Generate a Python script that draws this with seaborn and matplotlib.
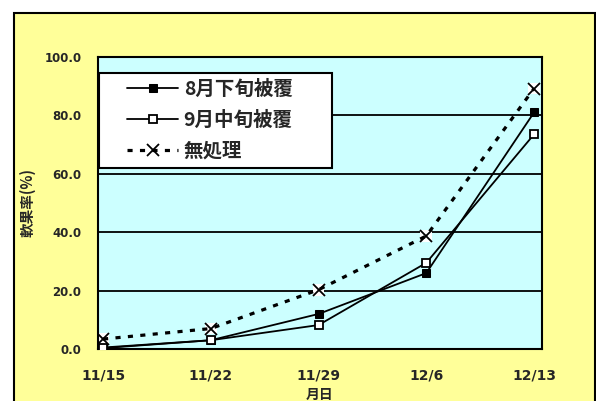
import numpy as np
import pandas as pd
import matplotlib
matplotlib.use("Agg")
import matplotlib.pyplot as plt
import matplotlib.patches as mpatches
import seaborn as sns

# données (軟果率 %)
dates = ["11/15", "11/22", "11/29", "12/6", "12/13"]
days = [0, 7, 14, 21, 28]
late_aug = [0.5, 3.0, 12.0, 26.0, 81.0]    # 8月下旬被覆
mid_sep = [0.3, 3.0, 8.2, 29.5, 73.5]      # 9月中旬被覆
untreated = [3.4, 7.0, 20.3, 38.7, 89.2]   # 無処理

sns.set_theme(style="white")
plt.rcParams["font.family"] = ["Noto Sans CJK JP", "DejaVu Sans"]

fig = plt.figure(figsize=(5.96, 4.01), dpi=100)
fig.patch.set_facecolor("white")
# cadre jaune de la zone graphique
frame = mpatches.Rectangle((14 / 596, -0.2), 581 / 596, 1.2 - 13 / 401,
                           transform=fig.transFigure, facecolor="#FFFF99",
                           edgecolor="black", linewidth=1.5, zorder=-1)
fig.add_artist(frame)

ax = fig.add_axes([98 / 596, 1 - 349 / 401, 444 / 596, 292 / 401])
ax.set_zorder(2)
ax.set_facecolor("#CCFFFF")

df = pd.DataFrame({"day": days, "late": late_aug, "mid": mid_sep, "none": untreated})

sns.lineplot(data=df, x="day", y="late", ax=ax, color="black", lw=1.3, marker="s",
             markersize=6, markerfacecolor="black", markeredgecolor="black",
             label="8月下旬被覆", zorder=4)
sns.lineplot(data=df, x="day", y="mid", ax=ax, color="black", lw=1.3, marker="s",
             markersize=6, markerfacecolor="white", markeredgecolor="black",
             markeredgewidth=1.3, label="9月中旬被覆", zorder=4)
# fond blanc derrière les croix (comme dans Excel)
sns.scatterplot(data=df, x="day", y="none", ax=ax, marker="s", s=70, color="white",
                edgecolor="none", zorder=2.5, legend=False)
sns.lineplot(data=df, x="day", y="none", ax=ax, color="black", lw=2.3, dashes=(1.6, 2.3),
             marker="x", markersize=9, markeredgewidth=1.3, markeredgecolor="black",
             label="無処理", zorder=3)

ax.set_ylim(0, 100)
ax.set_xlim(-0.33, 28.52)
ax.set_yticks(np.arange(0, 101, 20))
ax.set_yticklabels([f"{v:.1f}" for v in np.arange(0, 101, 20)], fontsize=8.5,
                   fontweight="bold", family="DejaVu Sans")
ax.set_xticks(days)
ax.set_xticklabels(dates, fontsize=10, fontweight="bold", family="DejaVu Sans")
ax.tick_params(axis="x", length=0, pad=14)
ax.tick_params(axis="y", length=0, pad=12)
ax.set_xticks([d - 0.45 for d in days[1:]], minor=True)
ax.tick_params(axis="x", which="minor", direction="in", length=5, width=1.3, color="black")

for v in [20, 40, 60, 80]:
    ax.axhline(v, color="black", lw=1.3, zorder=1)
for s in ax.spines.values():
    s.set_color("black")
    s.set_linewidth(1.5)

ax.set_xlabel("月日", fontsize=10, fontweight="bold", labelpad=4)
ax.set_ylabel("軟果率(%)", fontsize=10.5, fontweight="bold")
ax.yaxis.set_label_coords(-0.14, 0.5)

# cadre de la légende dessiné à part
box = mpatches.Rectangle((0.002, 0.62), 0.525, 0.325, transform=ax.transAxes,
                         facecolor="white", edgecolor="black", linewidth=1.5, zorder=5)
ax.add_patch(box)
leg = ax.legend(loc="upper left", bbox_to_anchor=(0.066, 0.922), borderaxespad=0,
                borderpad=0, prop={"size": 14, "weight": "bold"}, handlelength=2.6,
                frameon=False, labelspacing=0.6, handletextpad=0.3)
leg.set_zorder(6)

fig.savefig("out.png", dpi=100)
